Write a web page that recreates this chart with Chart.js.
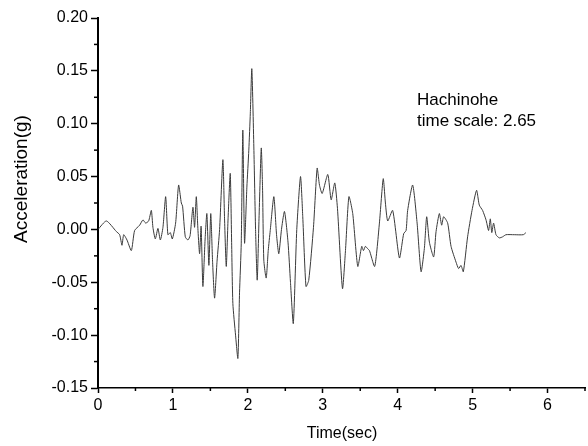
<!DOCTYPE html>
<html><head><meta charset="utf-8">
<script src="https://cdn.jsdelivr.net/npm/chart.js@4/dist/chart.umd.min.js"></script>
<style>html,body{margin:0;padding:0;background:#fff}#wrap{width:588px;height:446px;position:relative}</style>
</head><body><div id="wrap"><canvas id="c" width="588" height="446"></canvas></div>
<script>
const timeSec = [0.000,0.112,0.245,0.289,0.320,0.343,0.387,0.445,0.489,0.556,0.600,0.636,0.676,0.712,0.733,0.765,0.800,0.832,0.867,0.903,0.933,0.965,0.992,1.036,1.076,1.112,1.129,1.165,1.200,1.229,1.267,1.289,1.312,1.333,1.356,1.376,1.400,1.429,1.453,1.480,1.505,1.529,1.556,1.589,1.623,1.667,1.689,1.712,1.736,1.765,1.783,1.800,1.836,1.867,1.889,1.912,1.933,1.956,1.987,2.013,2.033,2.053,2.080,2.103,2.125,2.149,2.179,2.196,2.213,2.245,2.272,2.299,2.347,2.383,2.413,2.449,2.489,2.536,2.569,2.607,2.653,2.703,2.733,2.776,2.813,2.876,2.925,2.956,2.992,3.067,3.112,3.160,3.196,3.263,3.303,3.349,3.400,3.467,3.520,3.543,3.569,3.596,3.623,3.693,3.756,3.807,3.836,3.867,3.933,4.023,4.080,4.112,4.133,4.200,4.259,4.312,4.356,4.387,4.423,4.480,4.512,4.556,4.587,4.613,4.667,4.712,4.779,4.813,4.845,4.876,4.933,4.992,5.053,5.089,5.133,5.179,5.213,5.236,5.256,5.280,5.312,5.356,5.400,5.445,5.556,5.676,5.712];
const accelG = [0.000,0.008,-0.002,-0.005,-0.015,-0.005,-0.010,-0.020,-0.001,0.004,0.009,0.006,0.008,0.018,0.002,-0.009,0.001,-0.010,0.002,0.031,-0.005,-0.003,-0.009,0.006,0.042,0.025,0.022,-0.007,-0.010,-0.006,0.021,0.002,0.031,0.001,-0.023,0.003,-0.054,-0.010,0.015,-0.034,0.015,-0.030,-0.065,-0.030,0.000,0.066,0.010,-0.035,0.010,0.053,-0.010,-0.070,-0.100,-0.122,-0.060,-0.013,0.094,-0.013,0.040,0.075,0.110,0.152,0.078,0.000,-0.048,0.010,0.077,0.040,-0.029,-0.046,-0.020,-0.001,0.031,-0.005,-0.023,0.000,0.017,-0.012,-0.050,-0.089,0.000,0.050,0.012,-0.054,-0.048,0.002,0.058,0.042,0.034,0.052,0.028,0.044,0.020,-0.056,-0.020,0.031,0.015,-0.035,-0.016,-0.020,-0.016,-0.018,-0.020,-0.035,0.006,0.048,0.025,0.008,0.018,-0.027,-0.004,-0.001,0.018,0.042,0.006,-0.040,-0.018,0.012,-0.012,-0.026,-0.002,0.015,0.004,0.012,0.006,-0.016,-0.031,-0.037,-0.034,-0.040,-0.007,0.018,0.037,0.023,0.018,0.009,-0.001,0.010,-0.003,0.006,-0.005,-0.008,-0.007,-0.005,-0.005,-0.005,-0.003];
const xTickLabels = [0,1,2,3,4,5,6];
const yTickLabels = [-0.15,-0.10,-0.05,0.00,0.05,0.10,0.15,0.20];
const xTitle = 'Time(sec)';
const yTitle = 'Acceleration(g)';
const noteLines = ['Hachinohe','time scale: 2.65'];

const FONT = '"Liberation Sans", Arial, sans-serif';
const points = timeSec.map((t,i)=>({x:t,y:accelG[i]}));
const isMajorX = v => xTickLabels.some(a=>Math.abs(a-v)<1e-9);
const isMajorY = v => yTickLabels.some(a=>Math.abs(a-v)<1e-9);

const textPlugin = {
  id:'texts',
  afterDraw(chart){
    const ctx = chart.ctx;
    ctx.save();
    // minor ticks (shorter)
    ctx.strokeStyle = '#000';
    ctx.lineWidth = 1.5;
    const xs = chart.scales.x, ys = chart.scales.y;
    xs.ticks.forEach(t=>{ if(!isMajorX(t.value)){ const px = xs.getPixelForValue(t.value); ctx.beginPath(); ctx.moveTo(px, xs.top); ctx.lineTo(px, xs.top+3); ctx.stroke(); }});
    ys.ticks.forEach(t=>{ if(!isMajorY(t.value)){ const py = ys.getPixelForValue(t.value); ctx.beginPath(); ctx.moveTo(ys.right, py); ctx.lineTo(ys.right-4, py); ctx.stroke(); }});
    ctx.fillStyle = '#000';
    ctx.font = '16px ' + FONT;
    ctx.textAlign = 'center';
    ctx.textBaseline = 'middle';
    ctx.fillText(xTitle, 342, 434);
    ctx.save();
    ctx.translate(22, 179);
    ctx.rotate(-Math.PI/2);
    ctx.font = '19px ' + FONT;
    ctx.fillText(yTitle, 0, 0);
    ctx.restore();
    ctx.font = '17px ' + FONT;
    ctx.textAlign = 'left';
    ctx.textBaseline = 'alphabetic';
    noteLines.forEach((s,i)=>ctx.fillText(s, 417, 105 + i*21));
    ctx.restore();
  }
};

new Chart(document.getElementById('c'), {
  type:'line',
  data:{datasets:[{data:points, borderColor:'#3a3a3a', borderWidth:1, pointRadius:0, tension:0.2, fill:false}]},
  options:{
    responsive:false, animation:false, events:[],
    layout:{padding:{top:18,right:1,left:0,bottom:0}},
    plugins:{legend:{display:false}, tooltip:{enabled:false}},
    scales:{
      x:{type:'linear', min:0, max:6.5,
        afterFit(s){s.height = 58;},
        afterBuildTicks(s){ const t=[]; for(let k=0; k<=13; k++) t.push({value:k/2}); s.ticks=t; },
        ticks:{autoSkip:false, maxRotation:0, padding:3, color:'#000', font:{family:FONT,size:16},
          callback(v){ return isMajorX(v) ? String(Math.round(v)) : ''; }},
        grid:{drawOnChartArea:false, drawTicks:true, tickLength:5, tickWidth:1.5,
          tickColor:c=> (c.tick && isMajorX(c.tick.value)) ? '#000' : 'rgba(0,0,0,0)'},
        border:{display:true, color:'#000', width:1.5}
      },
      y:{type:'linear', min:-0.15, max:0.20,
        afterFit(s){s.width = 98;},
        afterBuildTicks(s){ const t=[]; for(let k=-6;k<=8;k++) t.push({value:Math.round(k*25)/1000}); s.ticks=t; },
        ticks:{autoSkip:false, padding:3, color:'#000', font:{family:FONT,size:16},
          callback(v){ const m = yTickLabels.find(a=>Math.abs(a-v)<1e-9); return m===undefined ? '' : m.toFixed(2); }},
        grid:{drawOnChartArea:false, drawTicks:true, tickLength:7, tickWidth:1.5,
          tickColor:c=> (c.tick && isMajorY(c.tick.value)) ? '#000' : 'rgba(0,0,0,0)'},
        border:{display:true, color:'#000', width:2}
      }
    }
  },
  plugins:[textPlugin]
});
</script></body></html>
